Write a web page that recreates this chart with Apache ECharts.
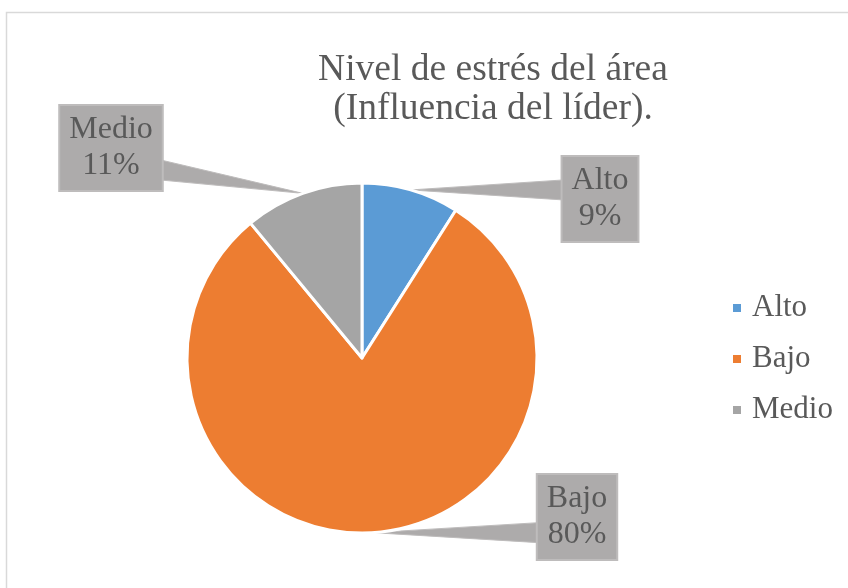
<!DOCTYPE html>
<html>
<head>
<meta charset="utf-8">
<script src="https://cdn.jsdelivr.net/npm/echarts@6/dist/echarts.min.js"></script>
<style>
  html, body { margin: 0; padding: 0; background: #ffffff; }
  #chart { width: 848px; height: 588px; }
</style>
</head>
<body>
<div id="chart"></div>
<script>
// ---- data ----
const categories = ['Alto', 'Bajo', 'Medio'];
const values = [9, 80, 11];
const colors = ['#5B9BD5', '#ED7D31', '#A5A5A5'];
const titleText = 'Nivel de estrés del área\n(Influencia del líder).';

// ---- label box placement (layout only) ----
const labelCenters = [[600, 199], [577, 517], [111, 148]];

const FONT = '"Liberation Serif", "Times New Roman", serif';
const BOX_FILL = '#ADABAB';
const BOX_STROKE = '#BEBCBC';
const TEXT = '#595959';

const chart = echarts.init(document.getElementById('chart'), null, { renderer: 'canvas' });

const pieData = categories.map((c, i) => ({ name: c, value: values[i], itemStyle: { color: colors[i] } }));

const baseGraphic = [{
  type: 'rect',
  z: 0,
  silent: true,
  shape: { x: 6.5, y: 12.5, width: 900, height: 700 },
  style: { fill: 'none', stroke: '#D9D9D9', lineWidth: 1.5 }
}];

chart.setOption({
  backgroundColor: '#ffffff',
  animation: false,
  title: {
    text: titleText,
    left: 488,
    top: 46,
    textAlign: 'center',
    textStyle: { fontFamily: FONT, fontSize: 37.5, fontWeight: 'normal', color: TEXT, lineHeight: 39 }
  },
  legend: {
    orient: 'vertical',
    left: 731,
    top: 290,
    padding: 0,
    itemWidth: 10,
    itemHeight: 10,
    itemGap: 15,
    icon: 'rect',
    data: categories,
    textStyle: { fontFamily: FONT, fontSize: 31, color: TEXT, lineHeight: 36, padding: [0, 0, 0, 5] }
  },
  graphic: baseGraphic,
  series: [{
    type: 'pie',
    z: 2,
    center: [362, 358],
    radius: 175,
    startAngle: 90,
    clockwise: true,
    data: pieData,
    itemStyle: { borderColor: '#ffffff', borderWidth: 3 },
    label: {
      show: true,
      formatter: p => p.name + '\n' + Math.round(p.percent) + '%',
      fontFamily: FONT,
      fontSize: 32,
      lineHeight: 36,
      color: TEXT,
      backgroundColor: BOX_FILL,
      borderColor: BOX_STROKE,
      borderWidth: 2,
      padding: [8, 9, 4, 9],
      align: 'center'
    },
    labelLine: { show: false },
    labelLayout: function (params) {
      const c = labelCenters[params.dataIndex];
      return { x: c[0], y: c[1], align: 'center', verticalAlign: 'middle' };
    },
    emphasis: { disabled: true }
  }]
});

// ---- callout wedges: tip at slice mid-edge (from pie layout), base on label box ----
function drawWedges() {
  const series = chart.getModel().getSeriesByIndex(0);
  const data = series.getData();
  const els = baseGraphic.slice();
  for (let i = 0; i < data.count(); i++) {
    const lay = data.getItemLayout(i);
    const mid = (lay.startAngle + lay.endAngle) / 2;
    const tip = [lay.cx + lay.r * Math.cos(mid), lay.cy + lay.r * Math.sin(mid)];
    const c = labelCenters[i];
    let rect = null;
    try {
      const el = data.getItemGraphicEl(i);
      const label = el && el.getTextContent && el.getTextContent();
      if (label) {
        rect = label.getBoundingRect().clone();
        rect.applyTransform(label.getComputedTransform());
      }
    } catch (e) { rect = null; }
    if (!rect || !isFinite(rect.x) || rect.width < 10) {
      rect = { x: c[0] - 40, y: c[1] - 42, width: 80, height: 84 };
    }
    const half = 10;
    let p1, p2;
    if (tip[0] < rect.x || tip[0] > rect.x + rect.width) {
      const ex = tip[0] < rect.x ? rect.x + 3 : rect.x + rect.width - 3;
      const m = rect.height * 0.25;
      const cy = Math.max(rect.y + m, Math.min(rect.y + rect.height - m, tip[1]));
      p1 = [ex, cy - half]; p2 = [ex, cy + half];
    } else {
      const ey = tip[1] < rect.y ? rect.y + 3 : rect.y + rect.height - 3;
      const m = rect.width * 0.25;
      const cx = Math.max(rect.x + m, Math.min(rect.x + rect.width - m, tip[0]));
      p1 = [cx - half, ey]; p2 = [cx + half, ey];
    }
    els.push({
      type: 'polygon',
      z: 1,
      silent: true,
      shape: { points: [tip, p1, p2] },
      style: { fill: BOX_FILL, stroke: BOX_STROKE, lineWidth: 1 }
    });
  }
  chart.setOption({ graphic: els }, { replaceMerge: ['graphic'] });
}
drawWedges();
</script>
</body>
</html>
